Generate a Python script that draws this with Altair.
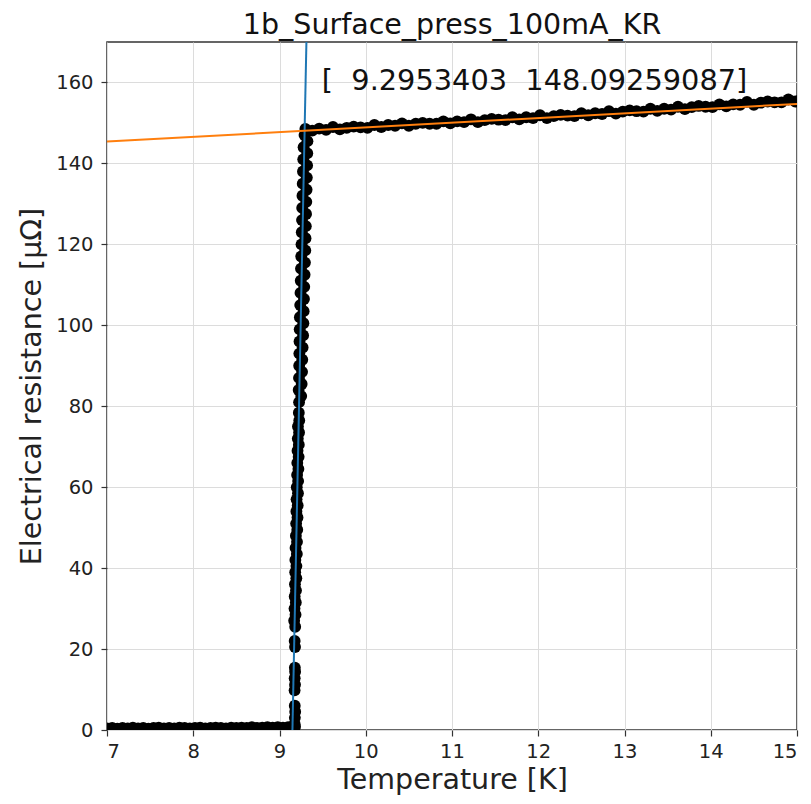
import altair as alt
import pandas as pd

# ---- data ----
T_low = [7.00, 7.06, 7.12, 7.18, 7.24, 7.30, 7.36, 7.42, 7.48, 7.54, 7.60, 7.66, 7.72,
         7.78, 7.84, 7.90, 7.96, 8.02, 8.08, 8.14, 8.20, 8.26, 8.32, 8.38, 8.44, 8.50,
         8.56, 8.62, 8.68, 8.74, 8.80, 8.86, 8.92, 8.98, 9.04, 9.10, 9.15]
R_low = [0.4, 0.5, 0.3, 0.5, 0.4, 0.6, 0.4, 0.5, 0.3, 0.5, 0.6, 0.4, 0.5, 0.4, 0.6, 0.5,
         0.4, 0.5, 0.6, 0.4, 0.5, 0.6, 0.5, 0.4, 0.6, 0.5, 0.6, 0.5, 0.7, 0.5, 0.6, 0.7,
         0.6, 0.7, 0.6, 0.7, 0.8]

transition = [
    (9.180, 0.8), (9.176, 1.5), (9.178, 3.0), (9.182, 4.5), (9.177, 6.0), (9.175, 9.8),
    (9.180, 11.2), (9.176, 12.8), (9.181, 14.4), (9.178, 15.4), (9.180, 20.5), (9.176, 22.0),
    (9.182, 25.5), (9.170, 27.0), (9.186, 28.5), (9.174, 30.0), (9.189, 31.5), (9.176, 33.0),
    (9.191, 34.5), (9.179, 36.0), (9.195, 37.5), (9.182, 39.0), (9.196, 40.5), (9.184, 42.0),
    (9.201, 43.5), (9.186, 45.0), (9.203, 46.5), (9.190, 48.0), (9.206, 49.5), (9.193, 51.0),
    (9.209, 52.5), (9.196, 54.0), (9.211, 55.5), (9.198, 57.0), (9.214, 58.5), (9.200, 60.0),
    (9.216, 61.5), (9.204, 63.0), (9.219, 64.5), (9.206, 66.0), (9.222, 67.5), (9.209, 69.0),
    (9.224, 70.5), (9.212, 72.0), (9.227, 73.5), (9.214, 75.0), (9.229, 76.5), (9.224, 78.4),
    (9.227, 81.0), (9.252, 82.5), (9.222, 84.0), (9.257, 85.5), (9.226, 87.0), (9.262, 88.5),
    (9.228, 90.0), (9.264, 91.5), (9.230, 93.0), (9.268, 94.5), (9.232, 96.0), (9.274, 97.5),
    (9.234, 99.0), (9.277, 100.5), (9.236, 102.0), (9.280, 103.5), (9.240, 105.0), (9.284, 106.5),
    (9.243, 108.0), (9.287, 109.5), (9.246, 111.0), (9.291, 112.5), (9.249, 114.0), (9.295, 115.5),
    (9.252, 117.0), (9.299, 118.5), (9.255, 120.0), (9.302, 121.5), (9.258, 123.0), (9.305, 124.5),
    (9.261, 126.0), (9.308, 127.5), (9.263, 129.0), (9.311, 130.5), (9.266, 132.0), (9.314, 133.5),
    (9.269, 135.0), (9.317, 136.5), (9.272, 138.0), (9.320, 139.5), (9.275, 141.0), (9.322, 142.5),
    (9.279, 144.0), (9.324, 145.5), (9.290, 147.0), (9.315, 148.0),
]

T_up = [9.30, 9.38, 9.46, 9.54, 9.62, 9.70, 9.78, 9.86, 9.94, 10.02, 10.10, 10.18, 10.26,
        10.34, 10.42, 10.50, 10.58, 10.66, 10.74, 10.82, 10.90, 10.98, 11.06, 11.14, 11.22,
        11.30, 11.38, 11.46, 11.54, 11.62, 11.70, 11.78, 11.86, 11.94, 12.02, 12.10, 12.18,
        12.26, 12.34, 12.42, 12.50, 12.58, 12.66, 12.74, 12.82, 12.90, 12.98, 13.06, 13.14,
        13.22, 13.30, 13.38, 13.46, 13.54, 13.62, 13.70, 13.78, 13.86, 13.94, 14.02, 14.10,
        14.18, 14.26, 14.34, 14.42, 14.50, 14.58, 14.66, 14.74, 14.82, 14.90, 14.98, 15.04]
R_up = [148.5, 148.1, 148.6, 148.3, 149.0, 148.4, 148.8, 149.1, 148.9, 148.8, 149.5, 149.0,
        149.5, 149.3, 149.9, 149.3, 149.8, 150.0, 149.8, 149.8, 150.4, 149.9, 150.4, 150.2,
        150.9, 150.2, 150.7, 151.0, 150.8, 150.7, 151.4, 150.9, 151.4, 151.2, 151.9, 151.2,
        151.7, 152.0, 151.8, 151.7, 152.4, 151.9, 152.4, 152.2, 152.9, 152.3, 152.8, 153.1,
        152.9, 152.8, 153.5, 153.0, 153.5, 153.3, 154.0, 153.4, 153.9, 154.2, 154.0, 153.9,
        154.6, 154.1, 154.6, 154.5, 155.2, 154.5, 155.0, 155.3, 155.1, 155.1, 155.8, 155.3,
        155.7]

blue_T = [9.150, 9.312]
blue_R = [0.0, 170.0]
orange_T = [7.0, 15.0]
orange_R = [145.4, 154.7]

fit_text = "[\u00a0\u00a09.2953403\u00a0\u00a0148.09259087]"
fit_pos_T = [9.49]
fit_pos_R = [158.2]

x_ticks = [7, 8, 9, 10, 11, 12, 13, 14, 15]
y_ticks = [0, 20, 40, 60, 80, 100, 120, 140, 160]

# ---- build tables ----
pts = pd.DataFrame({
    "T": T_low + [t for t, r in transition] + T_up,
    "R": R_low + [r for t, r in transition] + R_up,
})
blue = pd.DataFrame({"T": blue_T, "R": blue_R})
orange = pd.DataFrame({"T": orange_T, "R": orange_R})
txt = pd.DataFrame({"T": fit_pos_T, "R": fit_pos_R, "label": [fit_text]})

FONT = "DejaVu Sans"

xenc = alt.X("T:Q", scale=alt.Scale(domain=[7, 15], nice=False, zero=False),
             axis=alt.Axis(values=x_ticks, title="Temperature [K]", format="d"))
yenc = alt.Y("R:Q", scale=alt.Scale(domain=[0, 170], nice=False),
             axis=alt.Axis(values=y_ticks, title="Electrical resistance [μΩ]", format="d"))

points = alt.Chart(pts).mark_circle(size=140, color="black", opacity=1, clip=True).encode(
    x=xenc, y=yenc)
bline = alt.Chart(blue).mark_line(color="#1f77b4", strokeWidth=2, clip=True).encode(
    x="T:Q", y="R:Q")
oline = alt.Chart(orange).mark_line(color="#ff7f0e", strokeWidth=2, clip=True).encode(
    x="T:Q", y="R:Q")
label = alt.Chart(txt).mark_text(align="left", baseline="alphabetic", fontSize=28.8,
                                 font=FONT, color="#111").encode(
    x="T:Q", y="R:Q", text="label:N")

chart = alt.layer(points, bline, oline, label).properties(
    width=690, height=688,
    autosize=alt.AutoSizeParams(type="none"),
    padding={"left": 99, "top": 34, "right": 6, "bottom": 66},
    title=alt.TitleParams("1b_Surface_press_100mA_KR", font=FONT, fontSize=28.5,
                          fontWeight="normal", color="#111", offset=3),
).configure_view(
    stroke="#333333", strokeWidth=1.5
).configure_axis(
    labelFont=FONT, labelFontSize=19.5, labelColor="#222",
    titleFont=FONT, titleFontSize=28.5, titleColor="#222", titleFontWeight="normal",
    grid=True, gridColor="#dcdcdc", gridWidth=1,
    domain=False, ticks=True, tickSize=6, tickColor="#333", tickWidth=1.2,
    labelPadding=6,
).configure_axisY(
    labelPadding=8, titlePadding=9,
).configure_axisX(
    titlePadding=5,
)

chart.save("out.html", embed_options={"renderer": "svg", "actions": False})
